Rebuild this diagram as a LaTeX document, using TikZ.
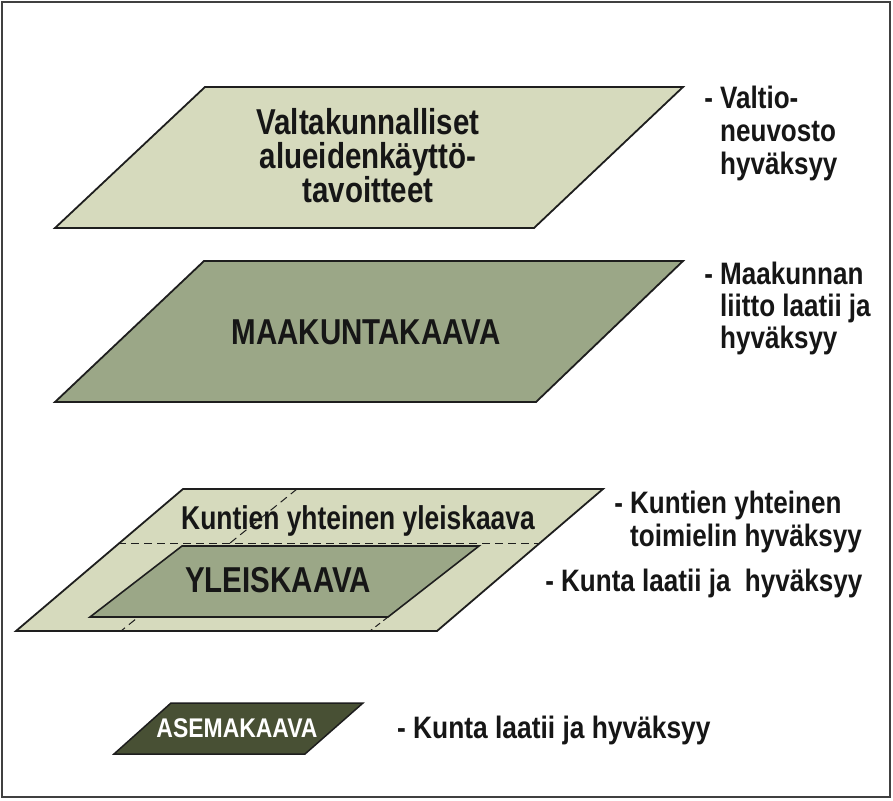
\documentclass[tikz,border=0pt]{standalone}
\usepackage{fontspec}
\setmainfont{Liberation Sans}
\newfontfamily\fA{Liberation Sans}[FakeStretch=0.82]
\newfontfamily\fK{Liberation Sans}[FakeStretch=0.80]
\newfontfamily\fR{Liberation Sans}[FakeStretch=0.84]
\newfontfamily\fS{Liberation Sans}[FakeStretch=0.85]
\definecolor{plLight}{RGB}{214,218,189}
\definecolor{plMid}{RGB}{155,167,135}
\definecolor{plDark}{RGB}{72,80,52}
\definecolor{lineC}{RGB}{30,30,30}
\definecolor{txtC}{RGB}{22,22,22}
\tikzset{
  frame/.style={draw=black!75, line width=1.6pt},
  plane/.style={draw=lineC, line width=1.8pt, line join=miter},
  lightplane/.style={plane, fill=plLight},
  midplane/.style={plane, fill=plMid},
  darkplane/.style={plane, fill=plDark},
  dashline/.style={draw=lineC, line width=1pt, dash pattern=on 8pt off 5pt},
  lbl/.style={inner sep=0pt, anchor=base, text=txtC, font=\fA\bfseries\fontsize{36}{36}\selectfont},
  side/.style={inner sep=0pt, anchor=base west, text=txtC, font=\fR\bfseries\fontsize{31}{33}\selectfont},
}
\begin{document}
\begin{tikzpicture}[x=1pt,y=-1pt]
\useasboundingbox (0,0) rectangle (893,800);
\fill[white] (0,0) rectangle (893,800);
\draw[frame] (2,2) rectangle (890,797);

% plane 1
\draw[lightplane] (205,87) -- (683,87) -- (534,228) -- (55,228) -- cycle;
\node[lbl] (v1) at (368,134) {Valtakunnalliset};
\node[lbl] (v2) at (368,168.5) {alueidenkäyttö-};
\node[lbl] (v3) at (368,202) {tavoitteet};
\node[side] (s1a) at (720,108) {\llap{- }Valtio-};
\node[side] (s1b) at (720,141) {neuvosto};
\node[side] (s1c) at (720,174) {hyväksyy};

% plane 2
\draw[midplane] (204,261) -- (683,261) -- (536,402) -- (55,402) -- cycle;
\node[lbl] (mk) at (366,344) {MAAKUNTAKAAVA};
\node[side] (s2a) at (720,284) {\llap{- }Maakunnan};
\node[side] (s2b) at (720,316) {liitto laatii ja};
\node[side] (s2c) at (720,348) {hyväksyy};

% plane 3
\draw[lightplane] (183,489) -- (603,489) -- (437,631) -- (16,631) -- cycle;
\coordinate (dA) at (297,489);
\coordinate (dB) at (121,631);
\draw[dashline] (dA) -- (dB);
\coordinate (hL) at (118,543);
\coordinate (hR) at (538,543);
\draw[dashline] (hL) -- (hR);
\node[lbl, font=\fK\bfseries\fontsize{33}{33}\selectfont] (ky) at (358,529) {Kuntien yhteinen yleiskaava};
\draw[midplane, line width=1.6pt] (182,546) -- (479,546) -- (388,617) -- (90,617) -- cycle;
\coordinate (eA) at (388,617);
\coordinate (eB) at (370,631);
\draw[dashline, dash pattern=on 6pt off 4pt] (eA) -- (eB);
\node[lbl, anchor=base west] (yk) at (185,592) {YLEISKAAVA};
\node[side] (s3a) at (630,513) {\llap{- }Kuntien yhteinen};
\node[side] (s3b) at (630,546) {toimielin hyväksyy};
\node[side] (s4) at (561,591) {\llap{- }Kunta laatii ja\ \ hyväksyy};

% plane 4
\draw[darkplane, line width=1.5pt] (171,703) -- (363,703) -- (305,754) -- (114,754) -- cycle;
\node[lbl, text=white, font=\fS\bfseries\fontsize{27}{28}\selectfont] (am) at (237,737) {ASEMAKAAVA};
\node[side, font=\fS\bfseries\fontsize{31}{33}\selectfont] (s5) at (413,738) {\llap{- }Kunta laatii ja hyväksyy};
\end{tikzpicture}
\end{document}
